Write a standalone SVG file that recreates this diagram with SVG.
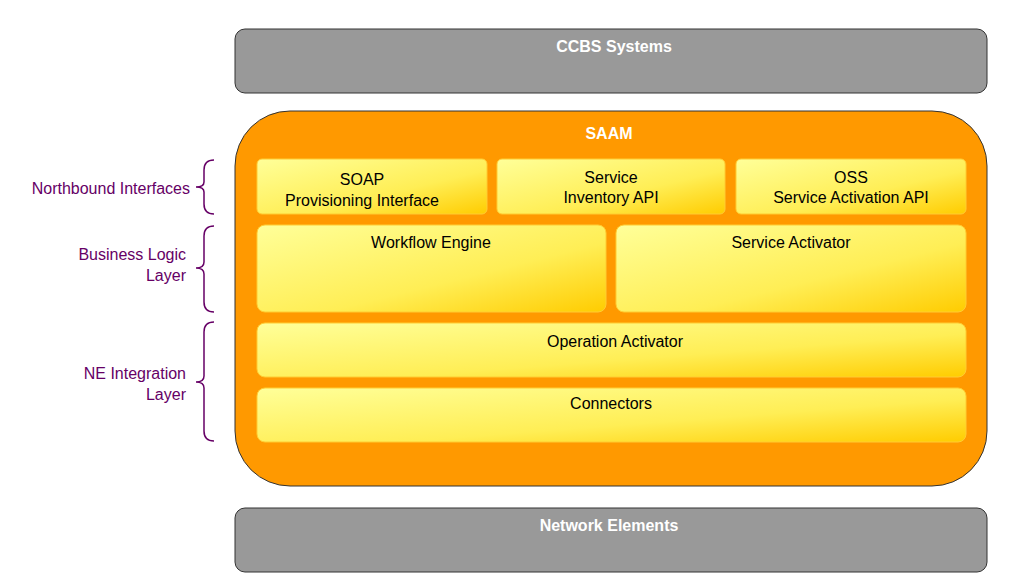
<svg xmlns="http://www.w3.org/2000/svg" width="1015" height="585" viewBox="0 0 1015 585">
<defs>
<linearGradient id="yg" x1="0" y1="0" x2="1" y2="1">
<stop offset="0" stop-color="#ffff99"/><stop offset="0.6" stop-color="#ffee55"/><stop offset="1" stop-color="#ffcc00"/>
</linearGradient>
</defs>
<style>
.gray{fill:#999999;stroke:#333;stroke-width:1}
.box{fill:url(#yg);stroke:#ffcc33;stroke-width:1}
.t{font-family:"Liberation Sans",Arial,sans-serif;font-size:16px;fill:#000;text-anchor:middle}
.w{font-family:"Liberation Sans",Arial,sans-serif;font-size:16px;font-weight:bold;fill:#fff;text-anchor:middle}
.p{font-family:"Liberation Sans",Arial,sans-serif;font-size:16px;fill:#660066;text-anchor:end}
.br{fill:none;stroke:#660066;stroke-width:1.5}
</style>
<rect width="1015" height="585" fill="#fff"/>
<g id="ccbs"><rect class="gray" x="235" y="29" width="752" height="64" rx="10"/><text class="w" x="614" y="52">CCBS Systems</text></g>
<g id="saam"><rect x="235" y="111" width="752" height="375" rx="55" fill="#ff9900" stroke="#333"/><text class="w" x="609" y="139">SAAM</text></g>
<g id="soap"><rect class="box" x="257" y="159" width="230" height="55" rx="5"/><text class="t" x="362" y="185">SOAP</text><text class="t" x="362" y="206">Provisioning Interface</text></g>
<g id="inv"><rect class="box" x="497" y="159" width="228" height="55" rx="5"/><text class="t" x="611" y="183">Service</text><text class="t" x="611" y="203">Inventory API</text></g>
<g id="oss"><rect class="box" x="736" y="159" width="230" height="55" rx="5"/><text class="t" x="851" y="183">OSS</text><text class="t" x="851" y="203">Service Activation API</text></g>
<g id="wf"><rect class="box" x="257" y="225" width="349" height="87" rx="8"/><text class="t" x="431" y="248">Workflow Engine</text></g>
<g id="sa"><rect class="box" x="616" y="225" width="350" height="87" rx="8"/><text class="t" x="791" y="248">Service Activator</text></g>
<g id="oa"><rect class="box" x="257" y="323" width="709" height="54" rx="8"/><text class="t" x="615" y="347">Operation Activator</text></g>
<g id="conn"><rect class="box" x="257" y="388" width="709" height="54" rx="8"/><text class="t" x="611" y="409">Connectors</text></g>
<g id="ne"><rect class="gray" x="235" y="508" width="752" height="64" rx="10"/><text class="w" x="609" y="531">Network Elements</text></g>
<g id="labels">
<path class="br" d="M214,160 Q204,160 204,170 L204,182 Q204,187 196,187 Q204,187 204,192 L204,204 Q204,214 214,214"/>
<text class="p" x="190" y="194">Northbound Interfaces</text>
<path class="br" d="M214,226 Q204,226 204,236 L204,262 Q204,268 196,268 Q204,268 204,274 L204,302 Q204,312 214,312"/>
<text class="p" x="186" y="260">Business Logic</text><text class="p" x="186" y="281">Layer</text>
<path class="br" d="M214,322 Q204,322 204,332 L204,376 Q204,382 196,382 Q204,382 204,388 L204,431 Q204,441 214,441"/>
<text class="p" x="186" y="379">NE Integration</text><text class="p" x="186" y="400">Layer</text>
</g>
<g id="connectors"/>
</svg>
